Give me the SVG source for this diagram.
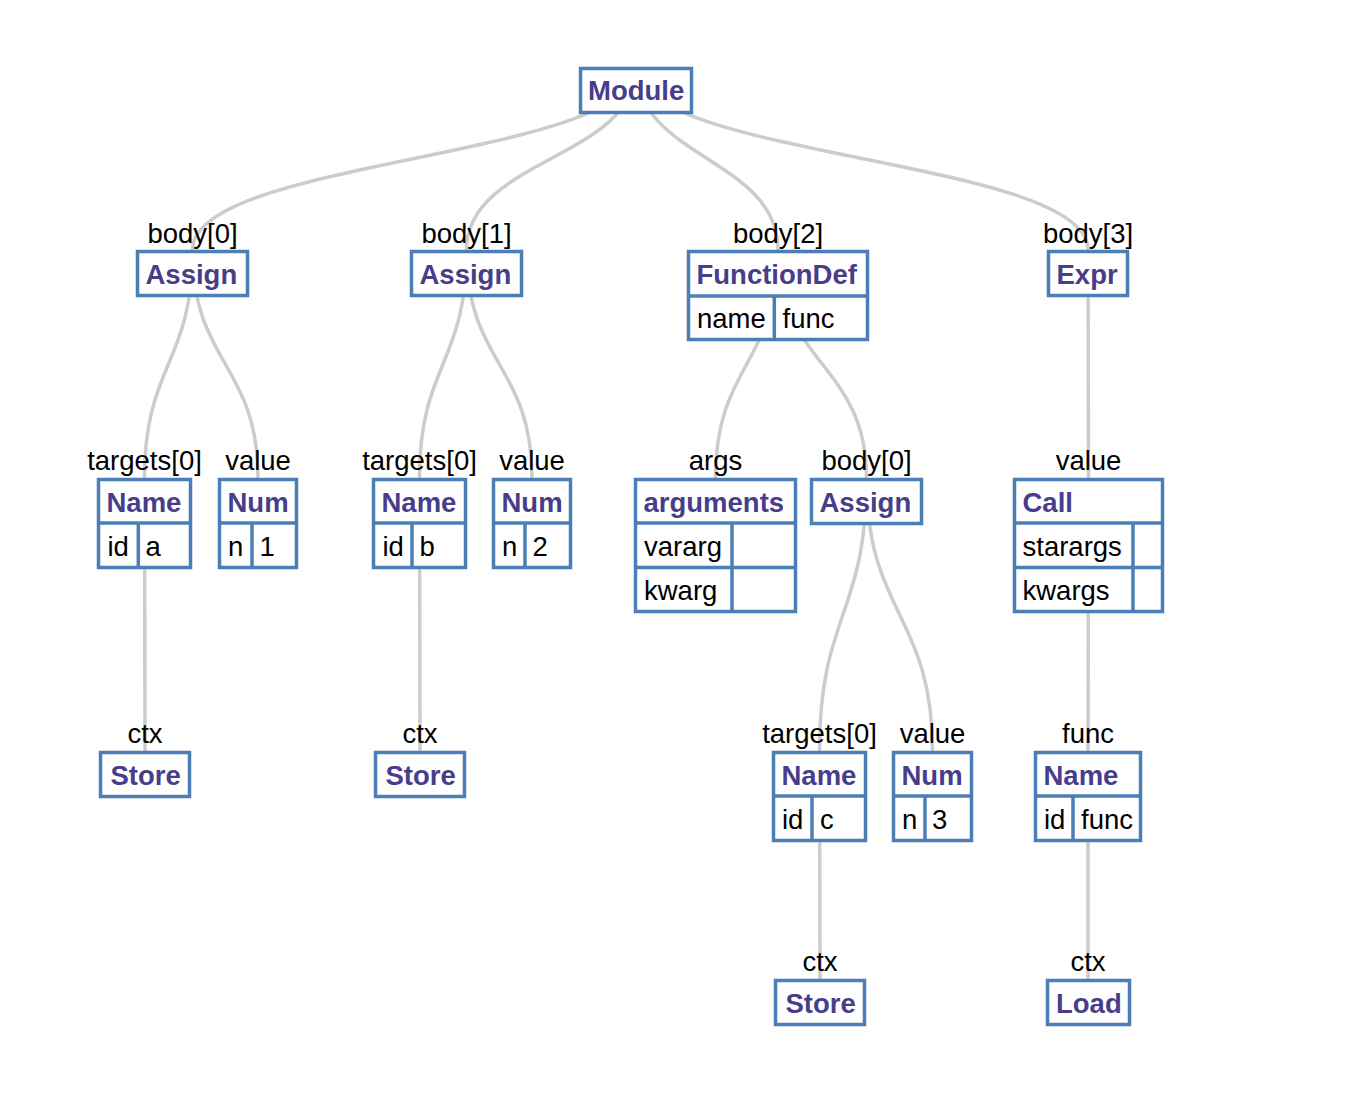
<svg xmlns="http://www.w3.org/2000/svg" width="1366" height="1104" viewBox="0 0 1366 1104">
<style>
.bg{fill:#fff}
.box{fill:#fff;stroke:#4a7eb4;stroke-width:3.5}
.dv{stroke:#4a7eb4;stroke-width:3.5;fill:none}
.t{font-family:"Liberation Sans",Arial,sans-serif;font-weight:bold;font-size:27.5px;fill:#483d8b}
.v{font-family:"Liberation Sans",Arial,sans-serif;font-size:27.5px;fill:#000}
.lb{font-family:"Liberation Sans",Arial,sans-serif;font-size:27.5px;fill:#000;text-anchor:middle}
.e{fill:none;stroke:#cccccc;stroke-width:3.5}
</style>
<rect class="bg" x="0" y="0" width="1366" height="1104"/>
<g id="edges">
<path class="e" d="M636,67 C636,158.5 192.5,158.5 192.5,250"/>
<path class="e" d="M636,67 C636,158.5 466.5,158.5 466.5,250"/>
<path class="e" d="M636,67 C636,158.5 778,158.5 778,250"/>
<path class="e" d="M636,67 C636,158.5 1088,158.5 1088,250"/>
<path class="e" d="M192.5,250 C192.5,364 144.5,364 144.5,478"/>
<path class="e" d="M192.5,250 C192.5,364 258,364 258,478"/>
<path class="e" d="M466.5,250 C466.5,364 419.5,364 419.5,478"/>
<path class="e" d="M466.5,250 C466.5,364 532,364 532,478"/>
<path class="e" d="M778,250 C778,364 715.5,364 715.5,478"/>
<path class="e" d="M778,250 C778,364 866.5,364 866.5,478"/>
<path class="e" d="M1088,250 C1088,364 1088.5,364 1088.5,478"/>
<path class="e" d="M144.5,478 C144.5,614.5 145,614.5 145,751"/>
<path class="e" d="M419.5,478 C419.5,614.5 420,614.5 420,751"/>
<path class="e" d="M866.5,478 C866.5,614.5 819.5,614.5 819.5,751"/>
<path class="e" d="M866.5,478 C866.5,614.5 932.5,614.5 932.5,751"/>
<path class="e" d="M1088.5,478 C1088.5,614.5 1088,614.5 1088,751"/>
<path class="e" d="M819.5,751 C819.5,865 820,865 820,979"/>
<path class="e" d="M1088,751 C1088,865 1088,865 1088,979"/>
</g>

<g id="module">
<rect class="box" x="580.5" y="68.5" width="111" height="44"/>
<text class="t" x="588" y="100">Module</text>
</g>

<g id="assign0">
<text class="lb" x="192.5" y="243">body[0]</text>
<rect class="box" x="137.5" y="251.5" width="110" height="44"/>
<text class="t" x="145.5" y="283.5">Assign</text>
</g>

<g id="assign1">
<text class="lb" x="466.5" y="243">body[1]</text>
<rect class="box" x="411.5" y="251.5" width="110" height="44"/>
<text class="t" x="419.5" y="283.5">Assign</text>
</g>

<g id="functiondef">
<text class="lb" x="778" y="243">body[2]</text>
<rect class="box" x="688.5" y="251.5" width="179" height="88"/>
<path class="dv" d="M688.5,296 H867.5 M774.3,296 V339.5"/>
<text class="t" x="696.5" y="283.5">FunctionDef</text>
<text class="v" x="697" y="327.5">name</text>
<text class="v" x="782.5" y="327.5">func</text>
</g>

<g id="expr">
<text class="lb" x="1088" y="243">body[3]</text>
<rect class="box" x="1048.5" y="251.5" width="79" height="44"/>
<text class="t" x="1056.5" y="283.5">Expr</text>
</g>

<g id="name-a">
<text class="lb" x="144.5" y="470">targets[0]</text>
<rect class="box" x="98.5" y="479.5" width="92" height="88"/>
<path class="dv" d="M98.5,523 H190.5 M138.3,523 V567.5"/>
<text class="t" x="106.5" y="511.5">Name</text>
<text class="v" x="107.5" y="555.5">id</text>
<text class="v" x="145.5" y="555.5">a</text>
</g>

<g id="num-1">
<text class="lb" x="258" y="470">value</text>
<rect class="box" x="219.5" y="479.5" width="77" height="88"/>
<path class="dv" d="M219.5,523 H296.5 M252,523 V567.5"/>
<text class="t" x="227.5" y="511.5">Num</text>
<text class="v" x="228" y="555.5">n</text>
<text class="v" x="259.5" y="555.5">1</text>
</g>

<g id="name-b">
<text class="lb" x="419.5" y="470">targets[0]</text>
<rect class="box" x="373.5" y="479.5" width="92" height="88"/>
<path class="dv" d="M373.5,523 H465.5 M412,523 V567.5"/>
<text class="t" x="381.5" y="511.5">Name</text>
<text class="v" x="382.5" y="555.5">id</text>
<text class="v" x="419.5" y="555.5">b</text>
</g>

<g id="num-2">
<text class="lb" x="532" y="470">value</text>
<rect class="box" x="493.5" y="479.5" width="77" height="88"/>
<path class="dv" d="M493.5,523 H570.5 M525,523 V567.5"/>
<text class="t" x="501.5" y="511.5">Num</text>
<text class="v" x="502" y="555.5">n</text>
<text class="v" x="532.5" y="555.5">2</text>
</g>

<g id="arguments">
<text class="lb" x="715.5" y="470">args</text>
<rect class="box" x="635.5" y="479.5" width="160" height="132"/>
<path class="dv" d="M635.5,523 H795.5 M635.5,567.5 H795.5 M732,523 V611.5"/>
<text class="t" x="643.5" y="511.5">arguments</text>
<text class="v" x="644" y="555.5">vararg</text>
<text class="v" x="644" y="600">kwarg</text>
</g>

<g id="assign2">
<text class="lb" x="866.5" y="470">body[0]</text>
<rect class="box" x="811.5" y="479.5" width="110" height="44"/>
<text class="t" x="819.5" y="511.5">Assign</text>
</g>

<g id="call">
<text class="lb" x="1088.5" y="470">value</text>
<rect class="box" x="1014.5" y="479.5" width="148" height="132"/>
<path class="dv" d="M1014.5,523 H1162.5 M1014.5,567.5 H1162.5 M1133,523 V611.5"/>
<text class="t" x="1022.5" y="511.5">Call</text>
<text class="v" x="1022.5" y="555.5">starargs</text>
<text class="v" x="1022.5" y="600">kwargs</text>
</g>

<g id="store-a">
<text class="lb" x="145" y="743">ctx</text>
<rect class="box" x="100.5" y="752.5" width="89" height="44"/>
<text class="t" x="110.5" y="784.5">Store</text>
</g>

<g id="store-b">
<text class="lb" x="420" y="743">ctx</text>
<rect class="box" x="375.5" y="752.5" width="89" height="44"/>
<text class="t" x="385.5" y="784.5">Store</text>
</g>

<g id="name-c">
<text class="lb" x="819.5" y="743">targets[0]</text>
<rect class="box" x="773.5" y="752.5" width="92" height="88"/>
<path class="dv" d="M773.5,796 H865.5 M812,796 V840.5"/>
<text class="t" x="781.5" y="784.5">Name</text>
<text class="v" x="782" y="828.5">id</text>
<text class="v" x="820" y="828.5">c</text>
</g>

<g id="num-3">
<text class="lb" x="932.5" y="743">value</text>
<rect class="box" x="893.5" y="752.5" width="78" height="88"/>
<path class="dv" d="M893.5,796 H971.5 M925,796 V840.5"/>
<text class="t" x="901.5" y="784.5">Num</text>
<text class="v" x="902" y="828.5">n</text>
<text class="v" x="932" y="828.5">3</text>
</g>

<g id="name-func">
<text class="lb" x="1088" y="743">func</text>
<rect class="box" x="1035.5" y="752.5" width="105" height="88"/>
<path class="dv" d="M1035.5,796 H1140.5 M1073,796 V840.5"/>
<text class="t" x="1043.5" y="784.5">Name</text>
<text class="v" x="1044" y="828.5">id</text>
<text class="v" x="1081" y="828.5">func</text>
</g>

<g id="store-c">
<text class="lb" x="820" y="971">ctx</text>
<rect class="box" x="775.5" y="980.5" width="89" height="44"/>
<text class="t" x="785.5" y="1012.5">Store</text>
</g>

<g id="load">
<text class="lb" x="1088" y="971">ctx</text>
<rect class="box" x="1047.5" y="980.5" width="82" height="44"/>
<text class="t" x="1056" y="1012.5">Load</text>
</g>
</svg>
